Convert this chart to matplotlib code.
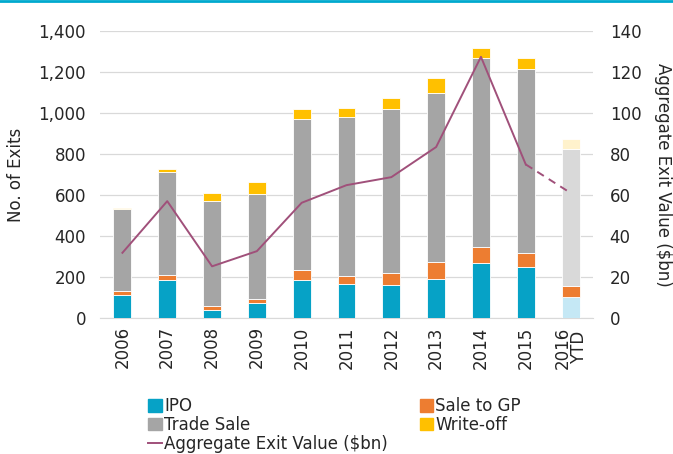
import numpy as np
import matplotlib.pyplot as plt
from matplotlib.lines import Line2D
from matplotlib.patches import Patch

plt.rcParams['font.family'] = ['DejaVu Sans']

years = ['2006', '2007', '2008', '2009', '2010', '2011', '2012', '2013', '2014', '2015', '2016\nYTD']
ipo = [111, 184, 37, 75, 187, 166, 163, 191, 267, 249, 101]
sale_gp = [19, 28, 20, 19, 46, 38, 57, 81, 78, 67, 54]
trade = [403, 500, 513, 509, 739, 776, 801, 824, 925, 901, 667]
writeoff = [4, 16, 42, 60, 49, 46, 51, 77, 48, 53, 49]
exit_value = [31.8, 57.0, 25.2, 32.6, 56.2, 64.8, 68.7, 83.4, 127.4, 74.9, 61.0]

c_ipo, c_gp, c_trade, c_wo = '#06A2C6', '#ED7D31', '#A5A5A5', '#FFC000'
c_ipo_l, c_trade_l, c_wo_l = '#C5E8F5', '#D9D9D9', '#FFF2CC'
c_line = '#A0507A'

fig = plt.figure(figsize=(6.73, 4.54), dpi=100)
ax = fig.add_axes([0.1486, 0.2996, 0.7325, 0.6321])
ax2 = ax.twinx()

x = np.arange(len(years))
n = len(years)
cols_ipo = [c_ipo] * (n - 1) + [c_ipo_l]
cols_gp = [c_gp] * n
cols_trade = [c_trade] * (n - 1) + [c_trade_l]
cols_wo = [c_wo] * (n - 1) + [c_wo_l]

w = 0.4
bottom = np.zeros(n)
for vals, cols in [(ipo, cols_ipo), (sale_gp, cols_gp), (trade, cols_trade), (writeoff, cols_wo)]:
    ax.bar(x, vals, w, bottom=bottom, color=cols, edgecolor='white', linewidth=0.6, zorder=3)
    bottom += np.array(vals)

# solid for full years, dashed into the YTD point
ax2.plot(x[:-1], exit_value[:-1], color=c_line, lw=1.4, zorder=4)
ax2.plot(x[-2:], exit_value[-2:], color=c_line, lw=1.4, ls=(0, (4, 3)), zorder=4)

ax.set_xlim(-0.5, n - 0.5)
ax.set_ylim(0, 1400)
ax2.set_ylim(0, 140)
ax.set_yticks(range(0, 1401, 200))
ax.set_yticklabels([f'{v:,}' for v in range(0, 1401, 200)])
ax2.set_yticks(range(0, 141, 20))
ax.set_xticks(x)
ax.set_xticklabels(years, rotation=90, linespacing=0.9)
ax.grid(axis='y', color='#D9D9D9', lw=0.9, zorder=0)
ax.set_axisbelow(True)
for a in (ax, ax2):
    for s in a.spines.values():
        s.set_visible(False)
    a.tick_params(length=0, labelsize=12, colors='#262626')
ax.spines['bottom'].set_visible(True)
ax.spines['bottom'].set_color('#D9D9D9')
ax.tick_params(axis='y', pad=10)
ax2.tick_params(axis='y', pad=12)
ax.tick_params(axis='x', pad=6)

ax.set_ylabel('No. of Exits', fontsize=12, color='#262626', labelpad=10)
ax2.set_ylabel('Aggregate Exit Value ($bn)', fontsize=12, color='#262626', rotation=270, labelpad=22)

fig.add_artist(Line2D([0, 1], [0.998, 0.998], color='#00A9CE', lw=2, transform=fig.transFigure))

handles = [Patch(color=c_ipo), Patch(color=c_trade),
           Line2D([0], [0], color=c_line, lw=1.4),
           Patch(color=c_gp), Patch(color=c_wo)]
labels = ['IPO', 'Trade Sale', 'Aggregate Exit Value ($bn)', 'Sale to GP', 'Write-off']
fig.legend(handles, labels, ncol=2, loc='lower left', bbox_to_anchor=(0.198, -0.03),
           frameon=False, fontsize=12, handlelength=0.8, handleheight=0.8,
           handletextpad=0.15, columnspacing=1.9, labelspacing=0.05, labelcolor='#262626')

fig.savefig('out.png', dpi=100)
